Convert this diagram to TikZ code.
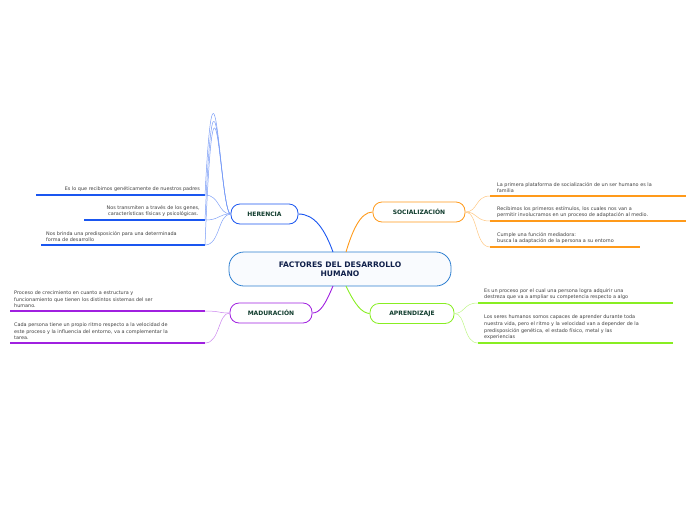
\documentclass[tikz,border=0pt]{standalone}
\usepackage{fontspec}
\setmainfont{DejaVu Sans}
\begin{document}
\begin{tikzpicture}[x=1pt,y=-1pt,
 main/.style={draw=cBlue,rounded corners=15pt,minimum width=222pt,minimum height=34pt,fill=cBlue!3,line width=0.8pt,align=center,font=\bfseries\fontsize{7.6}{9}\selectfont,text=cNavy},
 topic/.style={draw=#1,rounded corners=9pt,line width=0.8pt,fill=white,font=\bfseries\fontsize{6}{7}\selectfont,text=cGreenD,minimum height=20pt,inner xsep=6pt},
 leaf/.style={font=\fontsize{4.9}{6.6}\selectfont,text=black!75,inner sep=1pt,align=#1},
 uline/.style={draw=#1,line width=1.3pt},
 conn/.style={draw=#1,line width=0.5pt}]
\definecolor{cBlue}{HTML}{2E7FD0}
\definecolor{cNavy}{HTML}{10204A}
\definecolor{cGreenD}{HTML}{0F3B2C}
\definecolor{cH}{HTML}{1A56F0}
\definecolor{cS}{HTML}{FF9A1A}
\definecolor{cM}{HTML}{A020E0}
\definecolor{cA}{HTML}{88EE22}
\useasboundingbox (0,0) rectangle (696,520);
\node[main] (c) at (340,269) {FACTORES DEL DESARROLLO\\HUMANO};
\node[topic=cH,minimum width=67pt] (h) at (264.5,214) {HERENCIA};
\node[topic=cM,minimum width=82pt] (m) at (271,313) {MADURACIÓN};
\node[topic=cS,minimum width=92pt] (s) at (419,212) {SOCIALIZACIÓN};
\node[topic=cA,minimum width=84pt] (a) at (412,313.5) {APRENDIZAJE};
\draw[conn=cH,line width=0.9pt] (333,252) .. controls (325,230) and (315,214) .. (h.east);
\draw[conn=cM,line width=0.9pt] (333,286) .. controls (325,305) and (320,313) .. (m.east);
\draw[conn=cS,line width=0.9pt] (346,252) .. controls (352,232) and (360,212) .. (s.west);
\draw[conn=cA,line width=0.9pt] (346,286) .. controls (355,305) and (362,313) .. (a.west);
% herencia leaves
\coordinate (h1a) at (36,195); \coordinate (h1) at (205,195);
\coordinate (h2a) at (84,220); \coordinate (h2) at (205,220);
\coordinate (h3a) at (41,245); \coordinate (h3) at (205,245);
\draw[uline=cH] (h1a)--(h1); \draw[uline=cH] (h2a)--(h2); \draw[uline=cH] (h3a)--(h3);
\node[leaf=right,anchor=south east] (th1) at (201,193) {Es lo que recibimos genéticamente de nuestros padres};
\node[leaf=center,anchor=south east] (th2) at (201,218) {Nos transmiten a través de los genes,\\características físicas y psicológicas.};
\node[leaf=left,anchor=south west] (th3) at (45,243) {Nos brinda una predisposición para una determinada\\forma de desarrollo};
\foreach \p in {h1,h2,h3} \draw[conn=cH!60] (h.west) .. controls (220,214) and (215,\ifx\p h1 195\fi) .. (\p);
% maduracion leaves
\coordinate (m1a) at (10,311); \coordinate (m1) at (205,311);
\coordinate (m2a) at (10,343); \coordinate (m2) at (205,343);
\draw[uline=cM] (m1a)--(m1); \draw[uline=cM] (m2a)--(m2);
\node[leaf=left,anchor=south west] (tm1) at (13,309) {Proceso de crecimiento en cuanto a estructura y\\funcionamiento que tienen los distintos sistemas del ser\\humano.};
\node[leaf=left,anchor=south west] (tm2) at (13,341) {Cada persona tiene un propio ritmo respecto a la velocidad de\\este proceso y la influencia del entorno, va a complementar la\\tarea.};
% socializacion leaves
\coordinate (s1) at (490,196); \coordinate (s1b) at (686,196);
\coordinate (s2) at (490,221); \coordinate (s2b) at (686,221);
\coordinate (s3) at (490,247); \coordinate (s3b) at (640,247);
\draw[uline=cS] (s1)--(s1b); \draw[uline=cS] (s2)--(s2b); \draw[uline=cS] (s3)--(s3b);
\node[leaf=left,anchor=south west] (ts1) at (496,194) {La primera plataforma de socialización de un ser humano es la\\familia};
\node[leaf=left,anchor=south west] (ts2) at (496,219) {Recibimos los primeros estímulos, los cuales nos van a\\permitir involucramos en un proceso de adaptación al medio.};
\node[leaf=left,anchor=south west] (ts3) at (496,245) {Cumple una función mediadora:\\busca la adaptación de la persona a su entorno};
% aprendizaje leaves
\coordinate (a1) at (478,303); \coordinate (a1b) at (673,303);
\coordinate (a2) at (478,343); \coordinate (a2b) at (673,343);
\draw[uline=cA] (a1)--(a1b); \draw[uline=cA] (a2)--(a2b);
\node[leaf=left,anchor=south west] (ta1) at (483,301) {Es un proceso por el cual una persona logra adquirir una\\destreza que va a ampliar su competencia respecto a algo};
\node[leaf=left,anchor=south west] (ta2) at (483,341) {Los seres humanos somos capaces de aprender durante toda\\nuestra vida, pero el ritmo y la velocidad van a depender de la\\predisposición genética, el estado físico, metal y las\\experiencias};
% thin connectors
\draw[conn=cH!55] (h.west) .. controls (218,214) and (220,195) .. (h1);
\draw[conn=cH!55] (h.west) .. controls (218,214) and (220,220) .. (h2);
\draw[conn=cH!55] (h.west) .. controls (218,214) and (220,245) .. (h3);
\draw[conn=cM!55] (m.west) .. controls (218,313) and (220,311) .. (m1);
\draw[conn=cM!55] (m.west) .. controls (218,313) and (220,343) .. (m2);
\draw[conn=cS!55] (s.east) .. controls (478,212) and (475,196) .. (s1);
\draw[conn=cS!55] (s.east) .. controls (478,212) and (475,221) .. (s2);
\draw[conn=cS!55] (s.east) .. controls (478,212) and (475,247) .. (s3);
\draw[conn=cA!55] (a.east) .. controls (466,313) and (463,303) .. (a1);
\draw[conn=cA!55] (a.east) .. controls (466,313) and (463,343) .. (a2);
\end{tikzpicture}
\end{document}
